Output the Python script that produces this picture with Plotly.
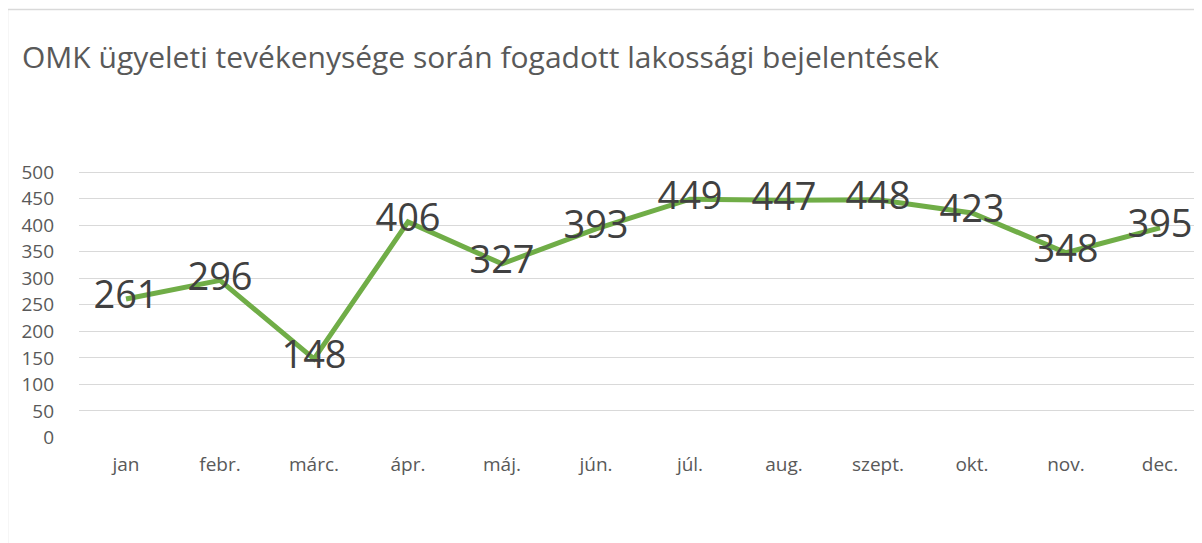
import plotly.graph_objects as go

months = ["jan", "febr.", "márc.", "ápr.", "máj.", "jún.", "júl.", "aug.", "szept.", "okt.", "nov.", "dec."]
values = [261, 296, 148, 406, 327, 393, 449, 447, 448, 423, 348, 395]
y_ticks = [0, 50, 100, 150, 200, 250, 300, 350, 400, 450, 500]
title_text = "OMK ügyeleti tevékenysége során fogadott lakossági bejelentések"

# the page adds an 8px body margin; figure coordinates are offset by it
OFF = 8
W, H = 1202, 543
L, R, T, B = 79 - OFF, 0, 171 - OFF, 113

fig = go.Figure()
fig.add_trace(go.Scatter(
    x=list(range(len(months))), y=values,
    mode="lines+text",
    text=[str(v) for v in values],
    textposition="middle center",
    textfont=dict(family="Open Sans", size=38, color="#404040"),
    line=dict(color="#70AD47", width=5),
    cliponaxis=False,
    hoverinfo="skip",
))

plot_w = W - L - R
plot_h = H - T - B
px_left = 7.5 - OFF + 8  # border line at page x=7.5
px_top = 9.5 - OFF + 8
x0p = (px_left - OFF - L) / plot_w
ytopp = (H - B - (px_top - OFF)) / plot_h
span = plot_w / 94.0

fig.update_layout(
    width=W, height=H,
    margin=dict(l=L, r=R, t=T, b=B),
    paper_bgcolor="white", plot_bgcolor="white",
    showlegend=False,
    title=dict(text=title_text, x=(22 - OFF) / W, xref="container", xanchor="left",
               y=1 - (57 - OFF) / H, yref="container", yanchor="middle",
               font=dict(family="Open Sans", size=30, color="#595959")),
    xaxis=dict(
        range=[-0.5, -0.5 + span],
        tickmode="array", tickvals=list(range(len(months))), ticktext=months,
        showgrid=False, zeroline=False, showline=False,
        tickfont=dict(family="Open Sans", size=19, color="#595959"),
        ticklabelstandoff=13,
    ),
    yaxis=dict(
        range=[-1, 502],
        tickmode="array", tickvals=y_ticks, ticktext=[str(v) for v in y_ticks],
        showgrid=True, gridcolor="#D9D9D9", gridwidth=1.3,
        zeroline=False, showline=False,
        tickfont=dict(family="Open Sans", size=19, color="#595959"),
        ticklabelstandoff=24,
    ),
    shapes=[
        dict(type="line", xref="paper", yref="paper", x0=x0p, x1=x0p, y0=-1, y1=ytopp,
             line=dict(color="#D9D9D9", width=1.5)),
        dict(type="line", xref="paper", yref="paper", x0=x0p, x1=1.01, y0=ytopp, y1=ytopp,
             line=dict(color="#D9D9D9", width=1.5)),
    ],
)

fig.write_html("out.html")
